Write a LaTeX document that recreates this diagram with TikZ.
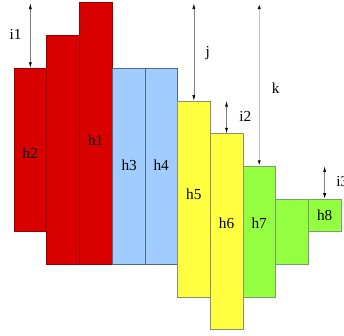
\documentclass[tikz,border=0pt]{standalone}
\usepackage{fontspec}
\setmainfont{Liberation Serif}
\usetikzlibrary{arrows.meta}
\definecolor{redF}{RGB}{217,0,0}
\definecolor{redD}{RGB}{150,0,0}
\definecolor{blueF}{RGB}{160,204,255}
\definecolor{blueD}{RGB}{80,105,135}
\definecolor{yelF}{RGB}{255,255,64}
\definecolor{yelD}{RGB}{140,140,110}
\definecolor{grnF}{RGB}{148,255,64}
\definecolor{grnD}{RGB}{120,160,100}
\tikzset{
  colbox/.style={draw, anchor=north west, inner sep=0pt, outer sep=0pt,
    minimum width=1cm, line width=0.5pt},
  redcol/.style={colbox, fill=redF, draw=redD},
  bluecol/.style={colbox, fill=blueF, draw=blueD},
  yelcol/.style={colbox, fill=yelF, draw=yelD},
  grncol/.style={colbox, fill=grnF, draw=grnD},
  lbl/.style={anchor=base, inner sep=0pt, font=\fontsize{13.3}{15}\selectfont},
  dim/.style={draw=gray, line width=0.6pt, {Latex[length=5pt,width=2.6pt,black]}-{Latex[length=5pt,width=2.6pt,black]}},
  dimlight/.style={dim, draw={rgb,255:red,195;green,195;blue,195}, line width=1pt}
}
\begin{document}
\begin{tikzpicture}
\useasboundingbox (0,0) rectangle (10.52,-10.245);
% columns
\node[redcol, minimum height=5cm] (c0) at (0.428,-2.083) {};
\node[redcol, minimum height=7cm] (c1) at (1.428,-1.083) {};
\node[redcol, minimum height=8cm] (c2) at (2.428,-0.083) {};
\node[bluecol, minimum height=6cm] (c3) at (3.428,-2.083) {};
\node[bluecol, minimum height=6cm] (c4) at (4.428,-2.083) {};
\node[yelcol, minimum height=6cm] (c5) at (5.428,-3.083) {};
\node[yelcol, minimum height=6cm] (c6) at (6.428,-4.083) {};
\node[grncol, minimum height=4cm] (c7) at (7.428,-5.083) {};
\node[grncol, minimum height=2cm] (c8) at (8.428,-6.083) {};
\node[grncol, minimum height=1cm] (c9) at (9.428,-6.083) {};
% column labels
\node[lbl] (t2) at (0.928,-4.84) {h2};
\node[lbl] (t1) at (2.928,-4.455) {h1};
\node[lbl] (t3) at (3.95,-5.2) {h3};
\node[lbl] (t4) at (4.93,-5.2) {h4};
\node[lbl] (t5) at (5.928,-6.095) {h5};
\node[lbl] (t6) at (6.928,-6.98) {h6};
\node[lbl] (t7) at (7.928,-6.98) {h7};
\node[lbl] (t8) at (9.928,-6.75) {h8};
% dimension arrows
\coordinate (topA) at (0,-0.1);
\draw[dim] (c0.north |- topA) -- (c0.north);
\draw[dim] (c5.north |- topA) -- (c5.north);
\draw[dimlight] (c7.north |- topA) -- (c7.north);
\draw[dim] (c6.north |- c5.north) -- (c6.north);
\draw[dim] (c9.north |- c7.north) -- (c9.north);
% dimension labels
\node[lbl] (li1) at (0.475,-1.223) {i1};
\node[lbl] (lj) at (6.35,-1.74) {j};
\node[lbl] (lk) at (8.43,-2.853) {k};
\node[lbl] (li2) at (7.5,-3.73) {i2};
\node[lbl] (li3) at (10.47,-5.71) {i3};
\end{tikzpicture}
\end{document}
